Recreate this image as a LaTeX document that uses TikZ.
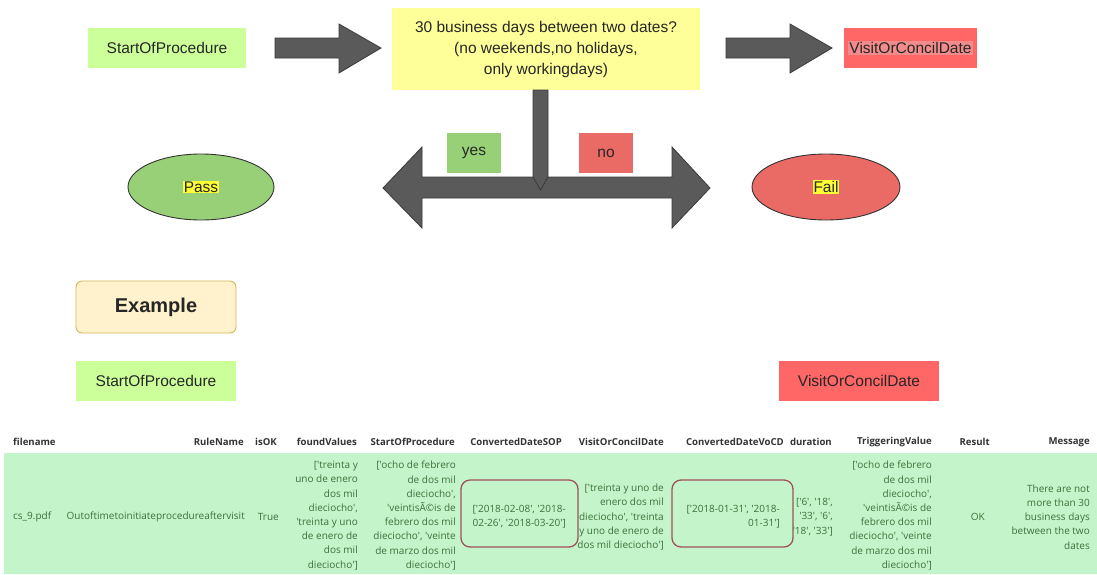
\documentclass[tikz,border=0pt]{standalone}
\usepackage{fontspec}
\setmainfont{Liberation Sans}
\newfontfamily\tblfont{Open Sans}
\usetikzlibrary{shapes.geometric}
\definecolor{lgreen}{HTML}{CCFF99}
\definecolor{lred}{HTML}{FF6666}
\definecolor{lyellow}{HTML}{FFFF99}
\definecolor{agray}{HTML}{5A5A5A}
\definecolor{aedge}{HTML}{3A3A3A}
\definecolor{ygreen}{HTML}{97D077}
\definecolor{nred}{HTML}{EA6B66}
\definecolor{excream}{HTML}{FFF2CC}
\definecolor{exedge}{HTML}{D6B656}
\definecolor{rowgreen}{HTML}{C4F5CA}
\definecolor{rowtext}{HTML}{3C703C}
\definecolor{hdrtext}{HTML}{333333}
\definecolor{roundedge}{HTML}{A0505A}
\definecolor{hlpink}{HTML}{F28C8C}
\definecolor{hlyellow}{HTML}{FFFF33}
\setlength{\fboxsep}{1pt}
\tikzset{
  flow/.style={font=\fontsize{15.5}{21}\selectfont, inner sep=0pt, text=black!85},
  gbox/.style={flow, fill=lgreen, minimum width=158pt, minimum height=40pt},
  rbox/.style={flow, fill=lred, minimum height=40pt},
  blockarrow/.style={fill=agray, draw=aedge, line width=0.8pt, line join=miter},
  lblbox/.style={flow, minimum width=54pt, minimum height=40pt},
  oval/.style={flow, ellipse, draw=black!80, line width=0.9pt, minimum height=66pt},
  hdr/.style={font=\tblfont\bfseries\fontsize{9.6}{12}\selectfont, text=hdrtext, inner sep=0pt, anchor=east},
  cell/.style={font=\tblfont\fontsize{10}{14.2}\selectfont, text=rowtext, inner sep=0pt, anchor=east, align=right},
  datebox/.style={draw=roundedge, line width=1.3pt, rounded corners=9pt}
}
\begin{document}
\begin{tikzpicture}[x=1pt,y=-1pt]
\useasboundingbox (0,0) rectangle (1097,574);
\fill[white] (0,0) rectangle (1097,574);

% top flow
\node[gbox] (sop) at (167,48) {StartOfProcedure};
\node[flow, fill=lyellow, minimum width=308pt, minimum height=82pt, align=center] (q) at (546,49)
  {30 business days between two dates?\\(no weekends,no holidays,\\only workingdays)};
\node[rbox, minimum width=133pt] (vocd) at (910.5,48) {\colorbox{hlpink}{VisitOrConcilDate}};

% block arrows
\draw[blockarrow] (275,38) -- (339,38) -- (339,24) -- (381,48) -- (339,73) -- (339,58) -- (275,58) -- cycle;
\draw[blockarrow] (726,38) -- (790,38) -- (790,24) -- (832,48) -- (790,73) -- (790,58) -- (726,58) -- cycle;
\draw[blockarrow] (383,188) -- (422,147) -- (422,177) -- (672,177) -- (672,147) -- (710,188)
  -- (672,228) -- (672,198) -- (422,198) -- (422,228) -- cycle;
\draw[blockarrow] (533,90) -- (548,90) -- (548,177) -- (540.5,190) -- (533,177) -- cycle;

\node[lblbox, fill=ygreen] (yes) at (474,153) {yes};
\node[lblbox, fill=nred] (no) at (606,153) {no};

\node[oval, fill=ygreen, minimum width=146pt] (pass) at (201,187) {\colorbox{hlyellow}{Pass}};
\node[oval, fill=nred, minimum width=148pt] (fail) at (826,187) {\colorbox{hlyellow}{Fail}};

% example
\node[flow, fill=excream, draw=exedge, line width=0.9pt, rounded corners=6pt, minimum width=160pt, minimum height=52pt,
  font=\bfseries\fontsize{20}{24}\selectfont] (ex) at (156,307) {Example};
\node[gbox, minimum width=160pt] (sop2) at (156,381) {StartOfProcedure};
\node[rbox, minimum width=160pt] (vocd2) at (859,381) {VisitOrConcilDate};

% table
\fill[rowgreen] (4,453) rectangle (1097,574);
\node[hdr, anchor=west] (h1) at (13,442) {filename};
\node[hdr] (h2) at (244,442) {RuleName};
\node[hdr] (h3) at (277,442) {isOK};
\node[hdr] (h4) at (357,442) {foundValues};
\node[hdr] (h5) at (455,442) {StartOfProcedure};
\node[hdr] (h6) at (562,442) {ConvertedDateSOP};
\node[hdr] (h7) at (664,442) {VisitOrConcilDate};
\node[hdr] (h8) at (784,442) {ConvertedDateVoCD};
\node[hdr] (h9) at (832,442) {duration};
\node[hdr] (h10) at (932,442) {TriggeringValue};
\node[hdr] (h11) at (990,442) {Result};
\node[hdr] (h12) at (1090,442) {Message};

\node[cell, anchor=west] (c1) at (13,517) {cs\_9.pdf};
\node[cell] (c2) at (245,517) {Outoftimetoinitiateprocedureaftervisit};
\node[cell] (c3) at (279,517) {True};
\node[cell] (c4) at (358,515.5) {['treinta y\\uno de enero\\dos mil\\dieciocho',\\'treinta y uno\\de enero de\\dos mil\\dieciocho']};
\node[cell] (c5) at (456,515.5) {['ocho de febrero\\de dos mil\\dieciocho',\\'veintisÃ©is de\\febrero dos mil\\dieciocho', 'veinte\\de marzo dos mil\\dieciocho']};
\draw[datebox] (461,480) rectangle (578,547);
\node[cell] (c6) at (566,517) {['2018-02-08', '2018-\\02-26', '2018-03-20']};
\node[cell] (c7) at (664,517) {['treinta y uno de\\enero dos mil\\dieciocho', 'treinta\\y uno de enero de\\dos mil dieciocho']};
\draw[datebox] (672,480) rectangle (793,547);
\node[cell] (c8) at (780,517) {['2018-01-31', '2018-\\01-31']};
\node[cell] (c9) at (833,517) {['6', '18',\\'33', '6',\\'18', '33']};
\node[cell] (c10) at (932,515.5) {['ocho de febrero\\de dos mil\\dieciocho',\\'veintisÃ©is de\\febrero dos mil\\dieciocho', 'veinte\\de marzo dos mil\\dieciocho']};
\node[cell] (c11) at (985,517) {OK};
\node[cell] (c12) at (1090,517) {There are not\\more than 30\\business days\\between the two\\dates};
\end{tikzpicture}
\end{document}
